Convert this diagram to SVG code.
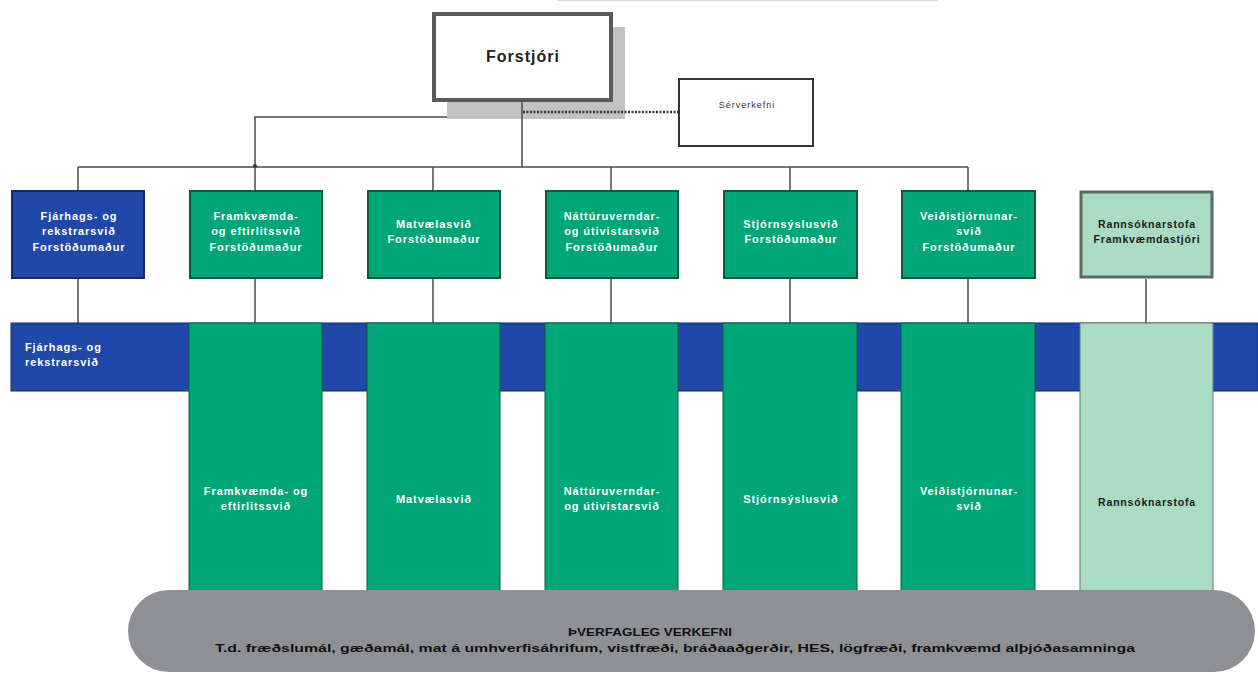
<svg xmlns="http://www.w3.org/2000/svg" width="1258" height="673" viewBox="0 0 1258 673">
<style>
.ln{stroke:#4a4a4a;stroke-width:1.5;fill:none}
.g{fill:#00a678;stroke:#0b5c3e;stroke-width:2}
.b{fill:#1f48a8;stroke:#13286e;stroke-width:2}
.lg{fill:#a9dcc3;stroke:#5b6a62;stroke-width:3}
.col{fill:#00a678;stroke:#0b5c3e;stroke-width:1}
.lcol{fill:#a9dcc3;stroke:#6b7a72;stroke-width:1}
.w{font-family:"Liberation Sans",Arial,sans-serif;font-size:11px;font-weight:bold;fill:#ffffff;text-anchor:middle;letter-spacing:0.9px}
.wl{font-family:"Liberation Sans",Arial,sans-serif;font-size:11px;font-weight:bold;fill:#ffffff;letter-spacing:0.9px}
.d{font-family:"Liberation Sans",Arial,sans-serif;font-size:10.5px;font-weight:bold;fill:#1a1a1a;text-anchor:middle;letter-spacing:0.8px}
</style>
<rect width="1258" height="673" fill="#ffffff"/>
<line x1="557" y1="0.5" x2="938" y2="0.5" stroke="#d6dede" stroke-width="1.5"/>

<g id="forstjori">
<rect x="447" y="27" width="178" height="92" fill="#c2c2c2"/>
<rect x="434" y="14" width="177" height="86" fill="#ffffff" stroke="#5a5a5a" stroke-width="4"/>
<text x="523" y="62" style="font-family:'Liberation Sans',Arial,sans-serif;font-size:16px;font-weight:bold;fill:#222;text-anchor:middle;letter-spacing:1px">Forstjóri</text>
</g>

<g id="connectors">
<polyline class="ln" points="447,117 255,117 255,167"/>
<line class="ln" x1="522" y1="101" x2="522" y2="167"/>
<line x1="523" y1="112" x2="678" y2="112" stroke="#333333" stroke-width="2.5" stroke-dasharray="2,1.5"/>
<line class="ln" x1="78" y1="167" x2="968" y2="167"/>
<circle cx="255" cy="166" r="2" fill="#3a3a3a"/>
<line class="ln" x1="78" y1="167" x2="78" y2="190"/>
<line class="ln" x1="255" y1="167" x2="255" y2="190"/>
<line class="ln" x1="433" y1="167" x2="433" y2="190"/>
<line class="ln" x1="611" y1="167" x2="611" y2="190"/>
<line class="ln" x1="790" y1="167" x2="790" y2="190"/>
<line class="ln" x1="968" y1="167" x2="968" y2="190"/>
<line class="ln" x1="78" y1="279" x2="78" y2="323"/>
<line class="ln" x1="255" y1="279" x2="255" y2="323"/>
<line class="ln" x1="433" y1="279" x2="433" y2="323"/>
<line class="ln" x1="611" y1="279" x2="611" y2="323"/>
<line class="ln" x1="790" y1="279" x2="790" y2="323"/>
<line class="ln" x1="968" y1="279" x2="968" y2="323"/>
<line class="ln" x1="1146" y1="279" x2="1146" y2="323"/>
</g>

<g id="serverkefni">
<rect x="679" y="79" width="134" height="67" fill="#ffffff" stroke="#333" stroke-width="2"/>
<text x="747" y="108" style="font-family:'Liberation Sans',Arial,sans-serif;font-size:9px;fill:#333;text-anchor:middle;letter-spacing:1px">Sérverkefni</text>
</g>

<g id="band">
<rect x="11" y="323" width="1247" height="68" fill="#1f48a8" stroke="#13286e" stroke-width="1"/>
<text class="wl" x="25" y="351">Fjárhags- og</text>
<text class="wl" x="25" y="366">rekstrarsvið</text>
</g>

<g id="columns">
<rect class="col" x="189" y="323" width="133" height="280"/>
<rect class="col" x="367" y="323" width="133" height="280"/>
<rect class="col" x="545" y="323" width="133" height="280"/>
<rect class="col" x="723" y="323" width="134" height="280"/>
<rect class="col" x="901" y="323" width="134" height="280"/>
<rect class="lcol" x="1080" y="323" width="133" height="280"/>
<text class="w" x="256" y="495">Framkvæmda- og</text>
<text class="w" x="256" y="510">eftirlitssvið</text>
<text class="w" x="434" y="503">Matvælasvið</text>
<text class="w" x="612" y="495">Náttúruverndar-</text>
<text class="w" x="612" y="510">og útivistarsvið</text>
<text class="w" x="791" y="503">Stjórnsýslusvið</text>
<text class="w" x="969" y="495">Veiðistjórnunar-</text>
<text class="w" x="969" y="510">svið</text>
<text class="d" x="1147" y="506">Rannsóknarstofa</text>
</g>

<g id="fjarhags">
<rect class="b" x="12" y="191" width="132" height="87"/>
<text class="w" x="79" y="220">Fjárhags- og</text>
<text class="w" x="79" y="235">rekstrarsvið</text>
<text class="w" x="79" y="251">Forstöðumaður</text>
</g>
<g id="framkvaemda">
<rect class="g" x="190" y="191" width="132" height="87"/>
<text class="w" x="256" y="220">Framkvæmda-</text>
<text class="w" x="256" y="235">og eftirlitssvið</text>
<text class="w" x="256" y="251">Forstöðumaður</text>
</g>
<g id="matvaela">
<rect class="g" x="368" y="191" width="132" height="87"/>
<text class="w" x="434" y="228">Matvælasvið</text>
<text class="w" x="434" y="243">Forstöðumaður</text>
</g>
<g id="natturuverndar">
<rect class="g" x="546" y="191" width="132" height="87"/>
<text class="w" x="612" y="220">Náttúruverndar-</text>
<text class="w" x="612" y="235">og útivistarsvið</text>
<text class="w" x="612" y="251">Forstöðumaður</text>
</g>
<g id="stjornsyslu">
<rect class="g" x="724" y="191" width="133" height="87"/>
<text class="w" x="791" y="228">Stjórnsýslusvið</text>
<text class="w" x="791" y="243">Forstöðumaður</text>
</g>
<g id="veidistjornunar">
<rect class="g" x="902" y="191" width="133" height="87"/>
<text class="w" x="969" y="220">Veiðistjórnunar-</text>
<text class="w" x="969" y="235">svið</text>
<text class="w" x="969" y="251">Forstöðumaður</text>
</g>
<g id="rannsoknarstofa">
<rect class="lg" x="1081" y="192" width="131" height="85"/>
<text class="d" x="1147" y="228">Rannsóknarstofa</text>
<text class="d" x="1147" y="243">Framkvæmdastjóri</text>
</g>

<g id="thverfagleg">
<rect x="128" y="590" width="1127" height="82" rx="41" ry="41" fill="#8e9095"/>
<text x="650" y="636" textLength="164" lengthAdjust="spacingAndGlyphs" style="font-family:'Liberation Sans',Arial,sans-serif;font-size:11px;font-weight:bold;fill:#111;text-anchor:middle">ÞVERFAGLEG VERKEFNI</text>
<text x="675" y="652" textLength="920" lengthAdjust="spacingAndGlyphs" style="font-family:'Liberation Sans',Arial,sans-serif;font-size:11px;font-weight:bold;fill:#111;text-anchor:middle">T.d. fræðslumál, gæðamál, mat á umhverfisáhrifum, vistfræði, bráðaaðgerðir, HES, lögfræði, framkvæmd alþjóðasamninga</text>
</g>
</svg>
